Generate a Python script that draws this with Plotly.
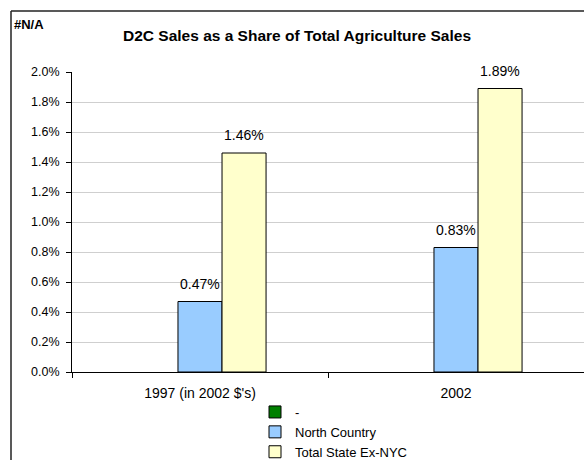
import plotly.graph_objects as go

categories = ["1997 (in 2002 $'s)", "2002"]
series_dash = [None, None]
north_country = [0.0047, 0.0083]
total_state = [0.0146, 0.0189]
y_ticks = [0.0, 0.002, 0.004, 0.006, 0.008, 0.010, 0.012, 0.014, 0.016, 0.018, 0.020]

FONT = "Liberation Sans, Arial, sans-serif"

L, T, R, B = 72, 72, 0, 88
W, H = 584, 460
pw, ph = W - L - R, H - T - B
BARGAP = 0.484
bar_px = pw / len(categories) * (1 - BARGAP) / 3


def px_x(p):
    return (p - L) / pw


def px_y(p):
    return (H - B - p) / ph


fig = go.Figure()
fig.add_trace(go.Bar(x=categories, y=series_dash, name="-",
                     marker=dict(color="#008000", line=dict(color="black", width=1))))
fig.add_trace(go.Bar(x=categories, y=north_country, name="North Country",
                     marker=dict(color="#99CCFF", line=dict(color="black", width=1))))
fig.add_trace(go.Bar(x=categories, y=total_state, name="Total State Ex-NYC",
                     marker=dict(color="#FFFFCC", line=dict(color="black", width=1))))

annotations = [
    dict(text="<b>D2C Sales as a Share of Total Agriculture Sales</b>",
         xref="paper", yref="paper", x=px_x(297), y=px_y(35),
         xanchor="center", yanchor="middle", showarrow=False,
         font=dict(size=15.5)),
    dict(text="<b>#N/A</b>", xref="paper", yref="paper", x=px_x(12), y=px_y(25),
         xanchor="left", yanchor="middle", showarrow=False, font=dict(size=13)),
]
for vals, shift in ((north_country, 0.0), (total_state, bar_px)):
    for i, v in enumerate(vals):
        annotations.append(dict(text=f"{v * 100:.2f}%", x=i, y=v, xref="x", yref="y",
                                xshift=shift, yshift=18, showarrow=False,
                                xanchor="center", yanchor="middle",
                                font=dict(size=14, color="black")))

fig.update_layout(
    width=W, height=H,
    margin=dict(l=L, r=R, t=T, b=B, pad=0, autoexpand=False),
    paper_bgcolor="white", plot_bgcolor="white",
    font=dict(family=FONT, size=12, color="black"),
    barmode="group", bargap=BARGAP, bargroupgap=0,
    showlegend=True,
    legend=dict(xref="container", yref="container",
                x=255 / W, y=1 - 397 / H, xanchor="left", yanchor="top",
                font=dict(size=13), bgcolor="rgba(0,0,0,0)", tracegroupgap=0,
                itemwidth=30),
    xaxis=dict(type="category", range=[-0.5, len(categories) - 0.5],
               showgrid=False, showline=True, linecolor="black", linewidth=1,
               ticks="outside", tickson="boundaries", ticklen=5, tickcolor="black",
               tickfont=dict(size=14), ticklabelstandoff=8, tickangle=0),
    yaxis=dict(range=[0, 0.02], tickvals=y_ticks, tickformat=".1%",
               showgrid=True, gridcolor="#cfcfcf", gridwidth=1,
               showline=True, linecolor="black", linewidth=1,
               ticks="outside", ticklen=5, tickcolor="black",
               tickfont=dict(size=12.5), zeroline=False, ticklabelstandoff=4),
    shapes=[
        dict(type="line", xref="paper", yref="paper", x0=px_x(11), x1=px_x(11),
             y0=px_y(11), y1=px_y(470), line=dict(color="#222222", width=1.5)),
        dict(type="line", xref="paper", yref="paper", x0=px_x(11), x1=px_x(600),
             y0=px_y(11), y1=px_y(11), line=dict(color="#222222", width=1.5)),
    ],
    annotations=annotations,
)

fig.write_html("out.html")
